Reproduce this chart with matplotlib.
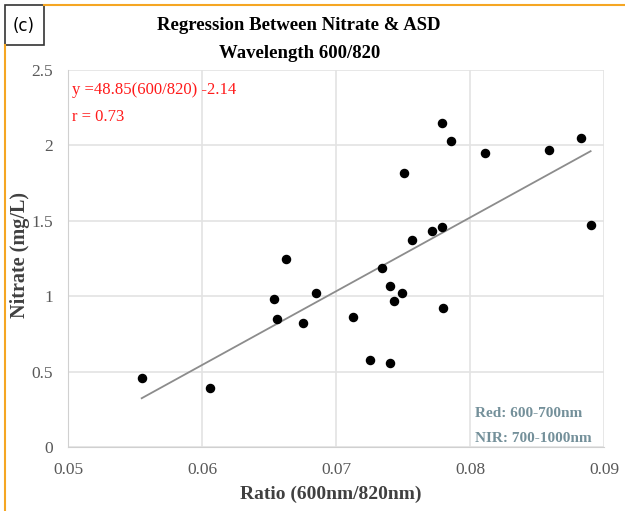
import numpy as np
import matplotlib.pyplot as plt
from matplotlib.patches import Rectangle
from matplotlib.lines import Line2D

# band ratio 600/820 vs nitrate
ratio = [0.0555, 0.0606, 0.0654, 0.0656, 0.0663, 0.0675, 0.0685, 0.0713,
         0.0725, 0.0734, 0.0740, 0.0740, 0.0743, 0.0749, 0.0751, 0.0757,
         0.0772, 0.0779, 0.0779, 0.0780, 0.0786, 0.0811, 0.0859, 0.0883, 0.0890]
nitrate = [0.46, 0.39, 0.98, 0.85, 1.25, 0.82, 1.02, 0.86,
           0.58, 1.19, 1.07, 0.56, 0.97, 1.02, 1.82, 1.37,
           1.43, 1.46, 2.15, 0.92, 2.03, 1.95, 1.97, 2.05, 1.47]

xticks = [0.05, 0.06, 0.07, 0.08, 0.09]
yticks = [0, 0.5, 1, 1.5, 2, 2.5]

serif = 'Liberation Serif'

fig = plt.figure(figsize=(6.25, 5.11), dpi=100)
ax = fig.add_axes([0.1088, 0.125, 0.8576, 0.738])

ax.scatter(ratio, nitrate, s=34, color='black', zorder=3)

# linear trend
k, b = np.polyfit(ratio, nitrate, 1)
xs = np.array([min(ratio), max(ratio)])
ax.plot(xs, k * xs + b, color='#8c8c8c', lw=1.3, zorder=2)

ax.set_xlim(0.05, 0.09)
ax.set_ylim(0, 2.5)
ax.set_xticks(xticks)
ax.set_yticks(yticks)
ax.set_xticklabels([f'{t:g}' for t in xticks], family=serif, fontsize=12.5, color='#595959')
ax.set_yticklabels([f'{t:g}' for t in yticks], family=serif, fontsize=12.5, color='#595959')
ax.tick_params(length=0, pad=11)
ax.tick_params(axis='y', pad=11)
ax.grid(True, color='#e3e3e3', lw=1.2)
ax.set_axisbelow(True)
for s in ax.spines.values():
    s.set_visible(False)
ax.spines['left'].set_visible(True)
ax.spines['left'].set_color('#d0d0d0')
ax.spines['bottom'].set_visible(True)
ax.spines['bottom'].set_color('#d0d0d0')

ax.set_xlabel('Ratio (600nm/820nm)', family=serif, fontweight='bold',
              fontsize=14, color='#404040')
ax.xaxis.set_label_coords(0.49, -0.102)
ax.set_ylabel('Nitrate (mg/L)', family=serif, fontweight='bold',
              fontsize=14.5, color='#404040')
ax.yaxis.set_label_coords(-0.07, 0.51)

fig.text(0.478, 1 - 25 / 511, 'Regression Between Nitrate & ASD', ha='center',
         va='center', family=serif, fontweight='bold', fontsize=13.5)
fig.text(0.48, 1 - 54 / 511, 'Wavelength 600/820', ha='center',
         va='center', family=serif, fontweight='bold', fontsize=13.5)

ax.text(0.0503, 2.37, 'y =48.85(600/820) -2.14', family=serif, fontsize=12,
        color='#ff1a1a', va='center')
ax.text(0.0503, 2.19, 'r = 0.73', family=serif, fontsize=12,
        color='#ff1a1a', va='center')

ax.text(0.0804, 0.225, 'Red: 600-700nm', family=serif, fontweight='bold',
        fontsize=11, color='#74909a', va='center')
ax.text(0.0804, 0.06, 'NIR: 700-1000nm', family=serif, fontweight='bold',
        fontsize=11, color='#74909a', va='center')

# orange frame and panel tag
fig.add_artist(Line2D([5 / 625, 5 / 625], [0, 1 - 45 / 511], color='#f5a623', lw=1.5))
fig.add_artist(Line2D([44 / 625, 1], [1 - 5 / 511, 1 - 5 / 511], color='#f5a623', lw=1.5))
fig.add_artist(Rectangle((5 / 625, 1 - 45 / 511), 39 / 625, 40 / 511, fill=False,
                         edgecolor='#333333', lw=1.2))
fig.text(24 / 625, 1 - 26 / 511, '(c)', ha='center', va='center', fontsize=12)

fig.savefig('out.png', dpi=100)
